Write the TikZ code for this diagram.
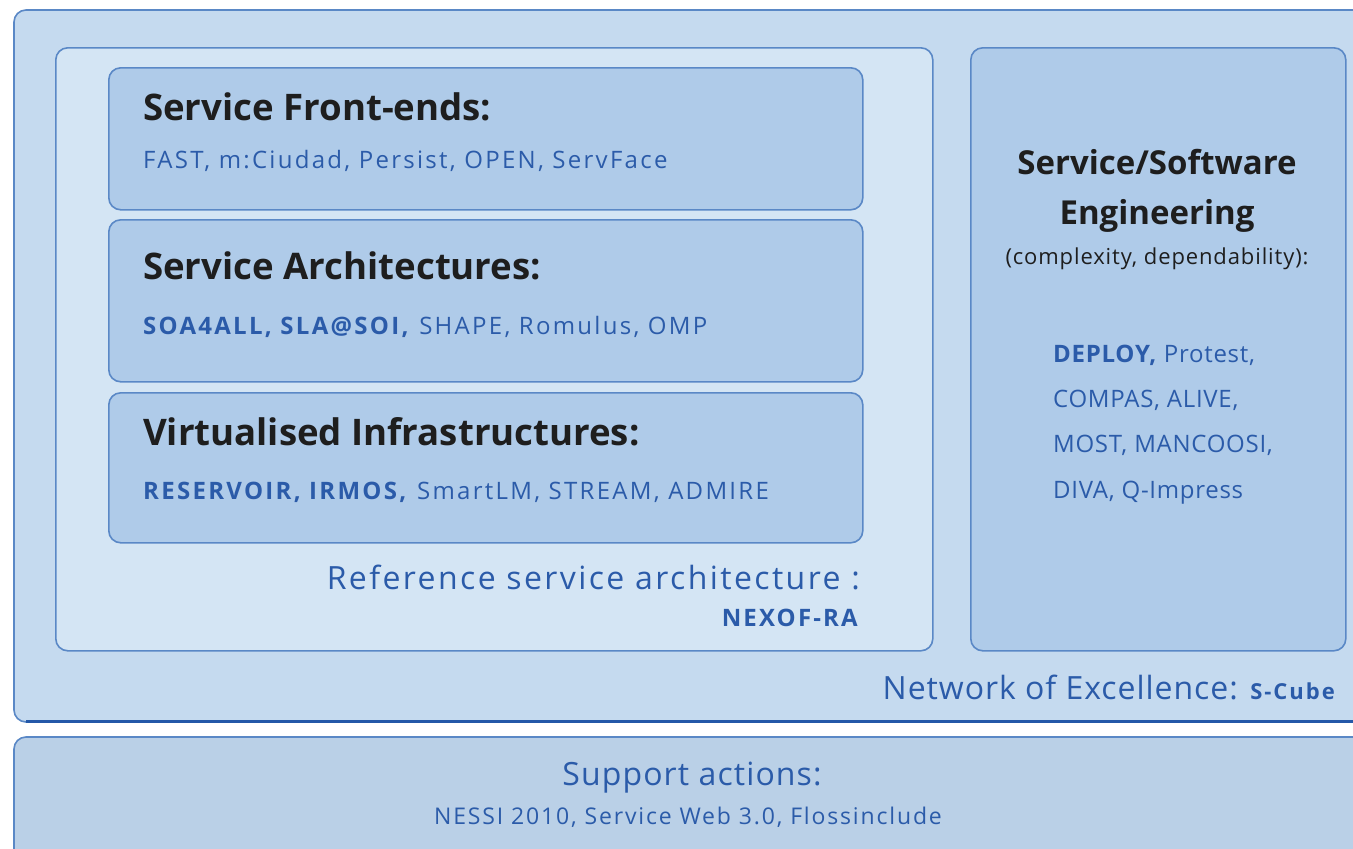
\documentclass[tikz,border=0pt]{standalone}
\usepackage{fontspec}
\setmainfont{Open Sans}
\definecolor{outerbg}{HTML}{C5DAEF}
\definecolor{panelbg}{HTML}{D4E5F4}
\definecolor{boxbg}{HTML}{AFCBE9}
\definecolor{supbg}{HTML}{BAD0E7}
\definecolor{edge}{HTML}{5A88C6}
\definecolor{darkedge}{HTML}{2458A8}
\definecolor{txtblue}{HTML}{2B5BA9}
\definecolor{txtdark}{HTML}{1E1E1E}
\newcommand{\ls}[1]{\addfontfeature{LetterSpace=#1}}
\tikzset{
  frame/.style={draw=edge, line width=1.6pt, rounded corners=12pt},
  title/.style={anchor=base west, inner sep=0pt, text=txtdark, font=\bfseries\fontsize{36.6}{40}\selectfont},
  sub/.style={anchor=base west, inner sep=0pt, text=txtblue, font=\fontsize{24}{26}\selectfont\ls{9.5}},
  rtitle/.style={anchor=base, inner sep=0pt, text=txtdark, font=\bfseries\fontsize{33}{36}\selectfont},
  rlist/.style={anchor=base west, inner sep=0pt, text=txtblue, font=\fontsize{24}{26}\selectfont\ls{3}},
  big/.style={inner sep=0pt, text=txtblue, font=\fontsize{32}{34}\selectfont\ls{3}}
}
\begin{document}
\begin{tikzpicture}[x=1pt,y=-1pt]
\useasboundingbox (0,0) rectangle (1353,849);
\clip (0,0) rectangle (1353,849);
\fill[white] (0,0) rectangle (1353,849);
% outer network box
\draw[frame, fill=outerbg] (14,10) rectangle (1380,722);
\draw[darkedge, line width=3pt] (26,721) -- (1380,721);
% support box
\draw[frame, fill=supbg] (14,737) rectangle (1380,880);
% left panel
\node[frame, fill=panelbg, minimum width=877pt, minimum height=603pt, anchor=north west, inner sep=0pt] (left) at (55,47) {};
% right panel
\node[frame, fill=boxbg, minimum width=375pt, minimum height=603pt, anchor=north west, inner sep=0pt] (right) at (970,47) {};
% three boxes
\node[frame, fill=boxbg, minimum width=754pt, minimum height=142pt, anchor=north west, inner sep=0pt] (fe) at (108,67) {};
\node[frame, fill=boxbg, minimum width=754pt, minimum height=162pt, anchor=north west, inner sep=0pt] (arch) at (108,219) {};
\node[frame, fill=boxbg, minimum width=754pt, minimum height=150pt, anchor=north west, inner sep=0pt] (infra) at (108,392) {};
% texts in boxes
\node[title] (t1) at (143,120) {Service Front-ends:};
\node[sub] (s1) at (143,168) {FAST, m:Ciudad, Persist, OPEN, ServFace};
\node[title] (t2) at (143,279) {Service Architectures:};
\node[sub] (s2) at (143,334) {\textbf{SOA4ALL, SLA@SOI,} SHAPE, Romulus, OMP};
\node[title] (t3) at (143,445) {Virtualised Infrastructures:};
\node[sub] (s3) at (143,499) {\textbf{RESERVOIR, IRMOS,} SmartLM, STREAM, ADMIRE};
\node[big, anchor=base east, font=\fontsize{32}{34}\selectfont\ls{7.5}] (ref) at (860,589) {Reference service architecture :};
\node[anchor=base east, inner sep=0pt, text=txtblue, font=\bfseries\fontsize{24}{26}\selectfont\ls{9}] (nex) at (858,626) {NEXOF-RA};
% right panel texts
\node[rtitle] (r1) at (1157,174) {Service/Software};
\node[rtitle] (r2) at (1157,224) {Engineering};
\node[anchor=base, inner sep=0pt, text=txtdark, font=\fontsize{22}{24}\selectfont\ls{4}] (r3) at (1157,264) {(complexity, dependability):};
\node[rlist] (l1) at (1053,362) {\textbf{DEPLOY,} Protest,};
\node[rlist] (l2) at (1053,407) {COMPAS, ALIVE,};
\node[rlist] (l3) at (1053,452) {MOST, MANCOOSI,};
\node[rlist] (l4) at (1053,498) {DIVA, Q-Impress};
% network label
\node[big, anchor=base east, font=\fontsize{32}{34}\selectfont\ls{3}] (noe) at (1238,699) {Network of Excellence:};
\node[anchor=base east, inner sep=0pt, text=txtblue, font=\bfseries\fontsize{22}{24}\selectfont\ls{9}] (scube) at (1335,699) {S-Cube};
% support
\node[big, anchor=base, font=\fontsize{32}{34}\selectfont\ls{3.5}] (sa) at (692,785) {Support actions:};
\node[anchor=base, inner sep=0pt, text=txtblue, font=\fontsize{23}{25}\selectfont\ls{8}] (sl) at (688,824) {NESSI 2010, Service Web 3.0, Flossinclude};
\end{tikzpicture}
\end{document}
